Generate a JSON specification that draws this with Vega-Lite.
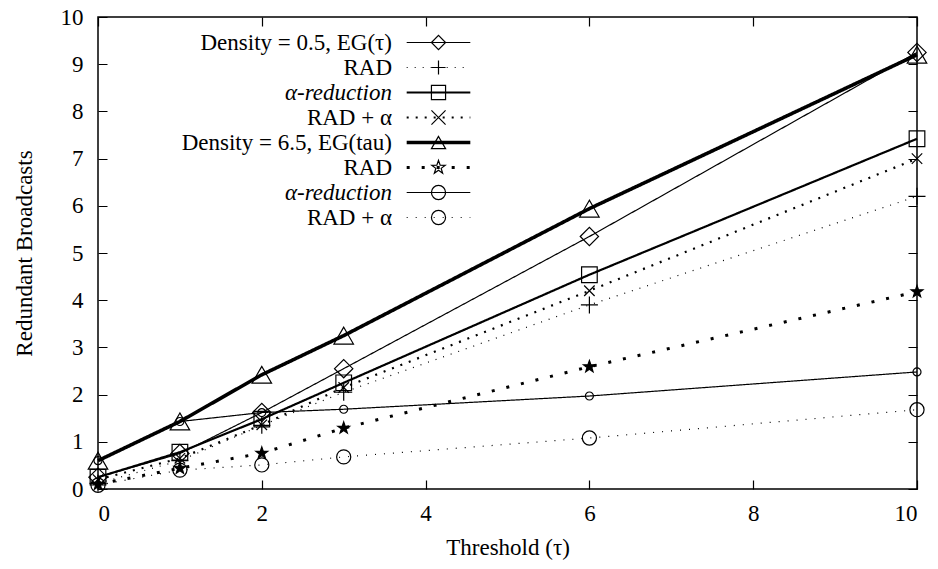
{
  "$schema": "https://vega.github.io/schema/vega-lite/v6.json",
  "width": 819,
  "height": 472,
  "autosize": {"type": "none"},
  "padding": {"left": 98, "top": 17, "right": 21, "bottom": 80},
  "background": "white",
  "config": {
    "font": "Liberation Serif",
    "view": {"stroke": "black", "strokeWidth": 1.5},
    "axis": {
      "domain": false,
      "ticks": false,
      "grid": true,
      "gridColor": "black",
      "gridOpacity": 1,
      "gridWidth": 1.2,
      "labelColor": "black",
      "labelFont": "Liberation Serif",
      "labelFontSize": 23,
      "titleFont": "Liberation Serif",
      "titleFontSize": 23,
      "titleFontWeight": "normal",
      "titleColor": "black"
    }
  },
  "data": {
    "values": [
      {"x": 0, "y": 0.25, "series": "a1", "line": "a1"},
      {"x": 1, "y": 0.75, "series": "a1", "line": "a1"},
      {"x": 2, "y": 1.62, "series": "a1", "line": "a1"},
      {"x": 3, "y": 2.55, "series": "a1", "line": "a1"},
      {"x": 6, "y": 5.35, "series": "a1", "line": "a1"},
      {"x": 10, "y": 9.25, "series": "a1", "line": "a1"},
      {"x": 0, "y": 0.12, "series": "a2", "line": "a2"},
      {"x": 1, "y": 0.6, "series": "a2", "line": "a2"},
      {"x": 2, "y": 1.35, "series": "a2", "line": "a2"},
      {"x": 3, "y": 2.05, "series": "a2", "line": "a2"},
      {"x": 6, "y": 3.9, "series": "a2", "line": "a2"},
      {"x": 10, "y": 6.2, "series": "a2", "line": "a2"},
      {"x": 0, "y": 0.25, "series": "a3", "line": "a3"},
      {"x": 1, "y": 0.78, "series": "a3", "line": "a3"},
      {"x": 2, "y": 1.48, "series": "a3", "line": "a3"},
      {"x": 3, "y": 2.25, "series": "a3", "line": "a3"},
      {"x": 6, "y": 4.54, "series": "a3", "line": "a3"},
      {"x": 10, "y": 7.42, "series": "a3", "line": "a3"},
      {"x": 0, "y": 0.2, "series": "a4", "line": "a4"},
      {"x": 1, "y": 0.65, "series": "a4", "line": "a4"},
      {"x": 2, "y": 1.36, "series": "a4", "line": "a4"},
      {"x": 3, "y": 2.15, "series": "a4", "line": "a4"},
      {"x": 6, "y": 4.2, "series": "a4", "line": "a4"},
      {"x": 10, "y": 7.0, "series": "a4", "line": "a4"},
      {"x": 0, "y": 0.6, "series": "b1", "line": "b1"},
      {"x": 1, "y": 1.43, "series": "b1", "line": "b1"},
      {"x": 2, "y": 2.42, "series": "b1", "line": "b1"},
      {"x": 3, "y": 3.25, "series": "b1", "line": "b1"},
      {"x": 6, "y": 5.94, "series": "b1", "line": "b1"},
      {"x": 10, "y": 9.2, "series": "b1", "line": "b1"},
      {"x": 0, "y": 0.1, "series": "b2", "line": "b2"},
      {"x": 1, "y": 0.44, "series": "b2", "line": "b2"},
      {"x": 2, "y": 0.76, "series": "b2", "line": "b2"},
      {"x": 3, "y": 1.29, "series": "b2", "line": "b2"},
      {"x": 6, "y": 2.59, "series": "b2", "line": "b2"},
      {"x": 10, "y": 4.18, "series": "b2", "line": "b2"},
      {"x": 0, "y": 0.6, "series": "b3", "line": "b3"},
      {"x": 1, "y": 1.43, "series": "b3", "line": "b3"},
      {"x": 2, "y": 1.62, "series": "b3", "line": "b3"},
      {"x": 3, "y": 1.69, "series": "b3", "line": "b3"},
      {"x": 6, "y": 1.97, "series": "b3", "line": "b3"},
      {"x": 10, "y": 2.48, "series": "b3", "line": "b3"},
      {"x": 0, "y": 0.08, "series": "b4", "line": "b4"},
      {"x": 1, "y": 0.4, "series": "b4", "line": "b4"},
      {"x": 2, "y": 0.51, "series": "b4", "line": "b4"},
      {"x": 3, "y": 0.68, "series": "b4", "line": "b4"},
      {"x": 6, "y": 1.08, "series": "b4", "line": "b4"},
      {"x": 10, "y": 1.68, "series": "b4", "line": "b4"}
    ]
  },
  "encoding": {
    "x": {
      "field": "x", "type": "quantitative",
      "scale": {"domain": [0, 10], "nice": false},
      "axis": {"values": [0, 2, 4, 6, 8, 10], "gridDash": [9, 454], "labelPadding": 13, "title": "Threshold (τ)", "titlePadding": 11}
    },
    "y": {
      "field": "y", "type": "quantitative",
      "scale": {"domain": [0, 10], "nice": false},
      "axis": {"values": [0, 1, 2, 3, 4, 5, 6, 7, 8, 9, 10], "gridDash": [9, 801], "labelPadding": 15, "title": "Redundant Broadcasts", "titlePadding": 24}
    }
  },
  "layer": [
    {
      "transform": [{"filter": {"field": "line", "oneOf": ["a1", "a2", "b3", "b4"]}}],
      "mark": {"type": "line", "color": "black", "strokeWidth": 1.2},
      "encoding": {
        "strokeDash": {
          "field": "line", "type": "nominal",
          "scale": {
            "domain": ["a1", "a2", "a3", "a4", "b1", "b2", "b3", "b4"],
            "range": [[1, 0], [1, 7], [1, 0], [2, 7], [1, 0], [3, 12], [1, 0], [1, 8]]
          },
          "legend": {
            "title": null, "orient": "none", "legendX": 329, "legendY": 14, "padding": 0,
            "symbolType": "M-4.5,0H4.5", "symbolSize": 200, "symbolOffset": 0, "symbolStrokeColor": "black",
            "labelAlign": "right", "labelOffset": -58, "labelFontSize": 23, "labelFont": "Liberation Serif", "labelColor": "black",
            "labelLimit": 600, "rowPadding": 1,
            "labelExpr": "datum.value == 'a1' ? 'Density = 0.5, EG(τ)' : datum.value == 'b1' ? 'Density = 6.5, EG(tau)' : (datum.value == 'a2' || datum.value == 'b2') ? 'RAD' : (datum.value == 'a3' || datum.value == 'b3') ? 'α-reduction' : 'RAD + α'",
            "encode": {
              "labels": {"update": {"fontStyle": {"signal": "datum.value == 'a3' || datum.value == 'b3' ? 'italic' : 'normal'"}}},
              "symbols": {"update": {"strokeWidth": {"signal": "datum.value == 'b1' ? 3.6 : datum.value == 'b2' ? 3 : (datum.value == 'a3' || datum.value == 'a4') ? 2.2 : 1.2"}}}
            }
          }
        }
      }
    },
    {
      "transform": [{"filter": {"field": "line", "oneOf": ["a3", "a4"]}}],
      "mark": {"type": "line", "color": "black", "strokeWidth": 2.2},
      "encoding": {"strokeDash": {"field": "line", "type": "nominal"}}
    },
    {
      "transform": [{"filter": {"field": "line", "oneOf": ["b2"]}}],
      "mark": {"type": "line", "color": "black", "strokeWidth": 3},
      "encoding": {"strokeDash": {"field": "line", "type": "nominal"}}
    },
    {
      "transform": [{"filter": {"field": "line", "oneOf": ["b1"]}}],
      "mark": {"type": "line", "color": "black", "strokeWidth": 3.6},
      "encoding": {"strokeDash": {"field": "line", "type": "nominal"}}
    },
    {
      "mark": {"type": "point", "color": "black", "filled": false, "strokeWidth": 1.2, "opacity": 1},
      "encoding": {
        "shape": {
          "field": "series", "type": "nominal",
          "scale": {
            "range": ["diamond", "M-1,0H1M0,-1V1", "square", "M-1,-1L1,1M-1,1L1,-1", "triangle-up", "M0,-1L0.235,-0.324L0.951,-0.309L0.38,0.124L0.588,0.809L0,0.4L-0.588,0.809L-0.38,0.124L-0.951,-0.309L-0.235,-0.324Z", "circle", "circle"]
          },
          "legend": {
            "title": null, "orient": "none", "legendX": 329, "legendY": 14, "padding": 0,
            "symbolSize": 200, "symbolOffset": 0, "symbolStrokeColor": "black", "symbolStrokeWidth": 1.2,
            "labelAlign": "left", "labelOffset": 60, "labelFontSize": 23, "labelOpacity": 0,
            "labelExpr": "' '", "rowPadding": 1,
            "encode": {
              "symbols": {"update": {
                "stroke": {"value": "black"},
                "strokeWidth": {"value": 1.2},
                "size": {"signal": "datum.value == 'b3' ? 64 : datum.value == 'a4' ? 130 : datum.value == 'b2' ? 154 : datum.value == 'b4' ? 180 : datum.value == 'a3' ? 230 : datum.value == 'a2' ? 280 : datum.value == 'a1' ? 320 : 360"}
              }}
            }
          }
        },
        "size": {
          "field": "series", "type": "nominal",
          "scale": {
            "type": "point",
            "domain": ["b3", "a4", "b2", "b4", "a3", "a2", "a1", "b1"],
            "range": [64, 380]
          },
          "legend": null
        }
      }
    },
    {
      "transform": [{"filter": {"field": "series", "oneOf": ["b2"]}}],
      "mark": {"type": "point", "filled": true, "color": "black", "opacity": 1, "size": 154, "shape": "M0,-1L0.235,-0.324L0.951,-0.309L0.38,0.124L0.588,0.809L0,0.4L-0.588,0.809L-0.38,0.124L-0.951,-0.309L-0.235,-0.324Z"},
      "encoding": {}
    }
  ]
}
